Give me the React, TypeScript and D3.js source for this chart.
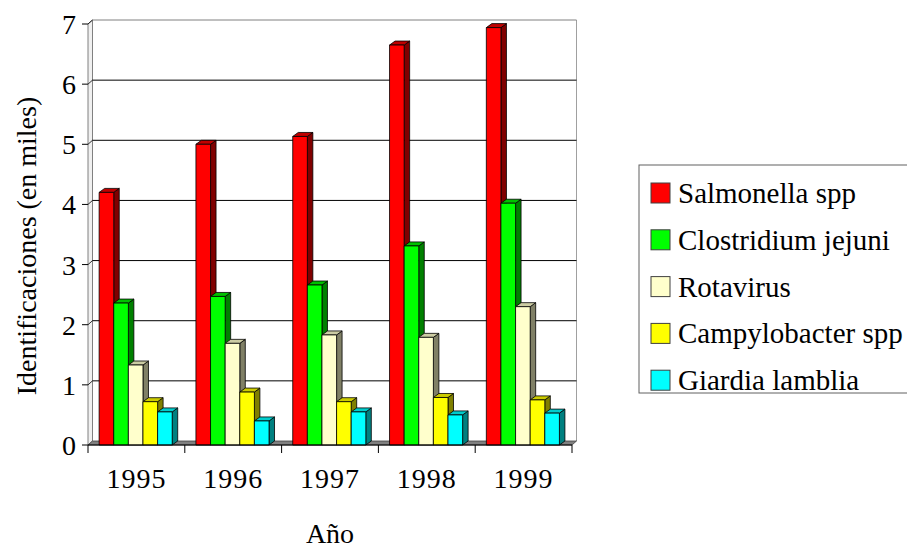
import React from 'react'
import { scaleBand, scaleLinear } from 'd3'

const years = ['1995', '1996', '1997', '1998', '1999']
const seriesNames = ['Salmonella spp', 'Clostridium jejuni', 'Rotavirus', 'Campylobacter spp', 'Giardia lamblia']
const salmonella = [4.2, 5.0, 5.13, 6.65, 6.94]
const clostridium = [2.36, 2.47, 2.66, 3.31, 4.02]
const rotavirus = [1.33, 1.69, 1.83, 1.79, 2.3]
const campylobacter = [0.72, 0.88, 0.72, 0.79, 0.75]
const giardia = [0.55, 0.4, 0.55, 0.5, 0.53]
const yTicks = [0, 1, 2, 3, 4, 5, 6, 7]

const seriesValues = [salmonella, clostridium, rotavirus, campylobacter, giardia]

// front, top, side shades
const colors = [
  ['#FF0000', '#C00000', '#800000'],
  ['#00FF00', '#00C000', '#008000'],
  ['#FFFFCC', '#CCCCA3', '#808066'],
  ['#FFFF00', '#CCCC00', '#808000'],
  ['#00FFFF', '#00CCCC', '#008080']
]

const textStyle = { fontFamily: "'Liberation Serif', 'DejaVu Serif', 'Noto Serif', Times, serif" }

const left = 88
const right = 572
const base = 445
const wallDx = 4.5
const wallDy = -4
const barDx = 5.5
const barDy = -4

const x0 = scaleBand().domain(years).range([left, right])
const x1 = scaleBand()
  .domain(seriesNames)
  .range([0, 1])
const y = scaleLinear().domain([0, 7]).range([base, 24])

const Bar = ({ x, w, v, c }) => {
  const top = y(v)
  const side = `${x + w},${top} ${x + w + barDx},${top + barDy} ${x + w + barDx},${base + barDy} ${x + w},${base}`
  const lid = `${x},${top} ${x + barDx},${top + barDy} ${x + w + barDx},${top + barDy} ${x + w},${top}`
  return (
    <g stroke="#000" strokeWidth={0.8} strokeLinejoin="round">
      <polygon points={side} fill={c[2]} />
      <polygon points={lid} fill={c[1]} />
      <rect x={x} y={top} width={w} height={base - top} fill={c[0]} />
    </g>
  )
}

const App = () => {
  const band = x0.bandwidth()
  const groupStart = band * 0.115
  const groupWidth = band * 0.755

  return (
    <svg width={907} height={549} style={{ position: 'absolute', left: 0, top: 0, background: '#fff' }}>
      {/* left wall */}
      <polygon
        points={`${left},${base} ${left + wallDx},${base + wallDy} ${left + wallDx},${y(7) + wallDy} ${left},${y(7)}`}
        fill="#f0f0f0"
        stroke="#808080"
        strokeWidth={1}
      />
      {/* back wall right edge */}
      <line x1={right + wallDx} y1={base + wallDy} x2={right + wallDx} y2={y(7) + wallDy} stroke="#a0a0a0" />
      {/* gridlines */}
      {yTicks.slice(1).map(t => (
        <g key={t}>
          <line x1={left + wallDx} x2={right + wallDx} y1={y(t) + wallDy} y2={y(t) + wallDy} stroke={t === 7 ? '#808080' : '#000'} strokeWidth={1} />
          <line x1={left} x2={left + wallDx} y1={y(t)} y2={y(t) + wallDy} stroke="#000" strokeWidth={0.8} />
          <line x1={left - 6} x2={left} y1={y(t)} y2={y(t)} stroke="#000" strokeWidth={1} />
        </g>
      ))}
      <line x1={left - 6} x2={left} y1={base} y2={base} stroke="#000" />
      {/* floor */}
      <polygon
        points={`${left},${base} ${right},${base} ${right + wallDx},${base + wallDy} ${left + wallDx},${base + wallDy}`}
        fill="#808080"
        stroke="#404040"
        strokeWidth={0.8}
      />
      {/* y tick labels */}
      {yTicks.map(t => (
        <text key={t} x={76} y={y(t) + 10} textAnchor="end" style={textStyle} fontSize={28}>
          {t}
        </text>
      ))}
      {/* bars */}
      {years.map((yr, i) => (
        <g key={yr}>
          {seriesNames.map((s, j) => (
            <Bar
              key={s}
              x={x0(yr) + groupStart + x1(s) * groupWidth}
              w={x1.bandwidth() * groupWidth}
              v={seriesValues[j][i]}
              c={colors[j]}
            />
          ))}
        </g>
      ))}
      {/* x axis */}
      <line x1={left} x2={right} y1={base} y2={base} stroke="#000" />
      {years.map(yr => (
        <line key={yr} x1={x0(yr)} x2={x0(yr)} y1={base} y2={base + 8} stroke="#000" />
      ))}
      <line x1={right} x2={right} y1={base} y2={base + 8} stroke="#000" />
      {years.map(yr => (
        <text key={yr} x={x0(yr) + band / 2} y={488} textAnchor="middle" style={textStyle} fontSize={28} letterSpacing={1}>
          {yr}
        </text>
      ))}
      <text x={330} y={543} textAnchor="middle" style={textStyle} fontSize={28}>
        Año
      </text>
      <text transform="translate(36,246) rotate(-90)" textAnchor="middle" style={textStyle} fontSize={28}>
        Identificaciones (en miles)
      </text>
      {/* legend */}
      <rect x={639} y={165} width={300} height={228} fill="#fff" stroke="#606060" strokeWidth={1} />
      {seriesNames.map((s, j) => {
        const cy = 193 + j * 46.8
        return (
          <g key={s}>
            <rect x={651} y={cy - 10} width={19} height={20} fill={colors[j][0]} stroke="#404040" strokeWidth={1} />
            <text x={678} y={cy + 10} style={textStyle} fontSize={29}>
              {s}
            </text>
          </g>
        )
      })}
    </svg>
  )
}

export default App
